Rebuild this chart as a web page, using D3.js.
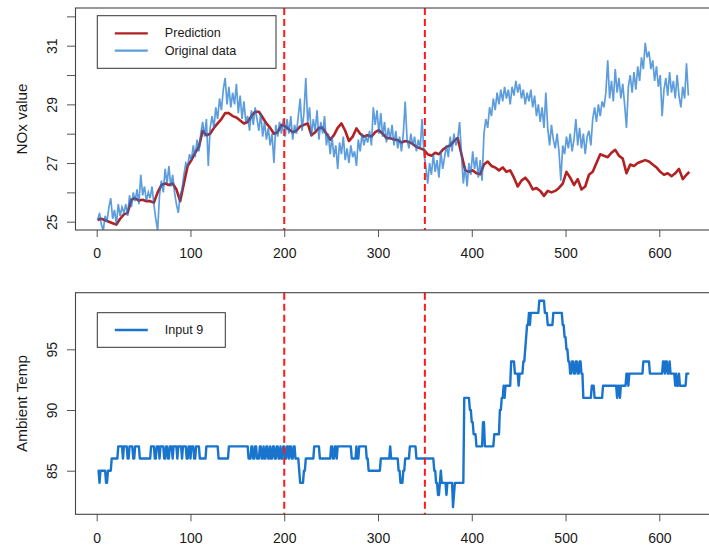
<!DOCTYPE html>
<html>
<head>
<meta charset="utf-8">
<script src="https://cdn.jsdelivr.net/npm/d3@7"></script>
<style>
  html, body { margin: 0; padding: 0; background: #ffffff; }
  svg { display: block; }
  text { font-family: "Liberation Sans", Arial, Helvetica, sans-serif; fill: #1a1a1a; }
</style>
</head>
<body>
<svg id="chart" width="709" height="556"></svg>
<script>
// ---------------- data ----------------
// Observed NOx, sampled every other time step starting at step 1
const originalStart = 1;
const originalStep = 2;
const originalData = [
  25.05, 25.3, 24.9, 24.7, 25.2, 25.0, 25.5, 25.8, 25.1, 25.4, 24.9, 25.6, 25.2, 25.5, 25.3,
  25.6, 25.2, 25.9, 25.5, 26.0, 25.7, 26.1, 25.6, 26.6, 25.9, 26.2, 25.7, 26.0, 25.8, 26.2, 25.6, 25.1, 24.7,
  25.9, 26.4, 26.0, 26.8, 26.3, 26.9, 26.2, 26.6,
  26.0, 25.6, 25.3, 25.9, 26.1, 26.6, 27.0,
  26.9, 27.3, 27.1, 27.6, 27.2, 27.8, 27.4, 28.0, 28.4, 27.9, 28.5, 26.9, 28.2,
  28.6, 28.2, 28.9, 28.5, 29.2, 28.8, 29.5, 29.9, 29.0, 29.6, 28.9, 29.4, 29.0, 29.7, 28.7, 29.3, 28.5, 29.1, 28.4,
  28.6, 28.1, 28.8, 28.3, 28.9, 28.5, 28.1, 28.7, 27.9, 28.4, 27.8, 28.2, 27.6, 28.0, 27.0, 28.3, 27.9, 28.4, 28.0, 28.5,
  27.9, 28.5, 28.0, 28.6, 27.8, 28.3, 28.0, 28.6, 29.2, 28.1, 28.7, 29.9, 28.4, 28.9, 27.9,
  28.5, 28.1, 28.8, 27.8, 28.4, 28.0, 28.6, 27.6, 28.0, 27.3, 27.9, 27.2, 27.6, 26.8, 27.7,
  27.3, 27.9, 27.1, 27.5, 27.0, 27.6, 27.2, 27.4, 26.9, 27.8, 27.4, 28.0, 27.6, 27.9, 27.7, 28.1, 27.6, 28.9, 28.3, 28.8,
  28.0, 28.7, 27.9, 28.4, 27.7, 28.2, 27.8, 28.3, 27.6, 28.1, 27.5, 27.9, 27.4, 28.0, 29.1, 27.8, 27.5, 28.0, 27.6, 27.9,
  27.4, 27.8, 27.5, 28.5, 27.3,
  26.9, 26.3, 27.0, 26.6, 27.3, 26.7, 27.1, 26.5, 27.4, 26.8, 27.2, 27.6, 27.2, 27.9, 27.4, 28.0, 27.6, 27.8, 28.4, 27.3,
  26.3, 26.9, 26.2, 27.0, 26.6, 27.4, 26.8, 27.2, 26.5, 27.1, 26.4, 28.0, 28.5, 28.2, 28.9, 28.6, 29.2, 28.8, 29.4, 29.0,
  29.5, 29.1, 29.6, 29.2, 29.5, 29.0, 29.6, 29.3, 29.8, 29.4, 29.7, 29.2, 29.5, 29.0, 29.4, 29.1, 29.5, 28.9, 29.3, 28.6,
  29.0, 28.4, 28.9, 28.2, 29.4,
  28.2, 27.6, 28.3, 27.8, 27.5, 28.0, 27.4, 26.4, 27.6, 27.3, 27.9, 27.5, 28.0, 27.4, 27.8, 28.5, 27.6, 28.2, 27.5, 28.0,
  27.3, 27.9, 28.1, 27.6, 28.5,
  28.9, 28.4, 29.0, 28.6, 29.1, 28.9, 29.4, 30.5, 29.2, 29.8, 29.1, 30.2, 29.4, 29.9, 29.2, 29.7, 29.0, 28.2, 29.6, 30.0,
  29.4, 30.1, 29.5, 30.3, 29.8,
  30.6, 30.2, 31.1, 30.6, 30.8, 30.2, 30.5, 29.8, 30.3, 29.6, 30.0, 28.6, 29.5, 29.9, 29.3, 30.1, 29.4, 29.8, 29.2, 30.0,
  29.3, 28.9, 29.6, 29.2, 30.4, 29.3
];

// Model prediction (time step, NOx)
const predictionIndex = [
  1, 5, 9, 13, 17, 21, 25, 29, 33, 37, 41, 45, 49, 53, 57, 61, 65, 69, 73, 77, 81, 85, 89, 93, 97,
  101, 105, 109, 113, 117, 121, 125, 129, 133, 137, 141, 145, 149, 153, 157, 161, 165, 169, 173, 177,
  181, 185, 189, 193, 197, 201, 205, 209, 213, 217, 221, 225, 229, 233, 237, 241, 245, 249, 253, 257,
  261, 265, 269, 273, 277, 281, 285, 289, 293, 297, 301, 305, 309, 313, 317, 321, 325, 329, 333, 337,
  341, 345, 349, 353, 357, 361, 365, 369, 373, 377, 381, 385, 389, 393, 397, 401, 405, 409, 413, 417,
  421, 425, 429, 433, 437, 441, 445, 449, 453, 457, 461, 465, 469, 473, 477, 481, 485, 489, 493, 497,
  501, 505, 509, 513, 517, 521, 525, 529, 533, 537, 541, 545, 549, 553, 557, 561, 565, 569, 573, 577,
  581, 585, 589, 593, 597, 601, 605, 609, 613, 617, 621, 625, 629, 632
];
const predictionValue = [
  25.06, 25.1, 25.05, 25.0, 24.95, 24.9, 25.1, 25.25, 25.3, 25.75, 25.8, 25.72, 25.75, 25.7, 25.7, 25.65,
  26.0, 26.25, 26.3, 26.25, 26.3, 26.1, 25.7, 26.3, 26.9,
  27.1, 27.35, 27.55, 28.1, 27.95, 28.0, 28.2, 28.35, 28.5, 28.7, 28.7, 28.6, 28.55, 28.45, 28.35, 28.4,
  28.6, 28.75, 28.75, 28.55,
  28.35, 28.2, 28.0, 28.05, 28.3, 28.25, 28.15, 28.05, 28.1, 28.25, 28.3, 28.35, 27.95, 28.05, 28.2,
  28.2, 28.0, 27.8, 27.95, 28.2,
  28.35, 28.1, 27.75, 27.9, 28.18, 28.0, 27.9, 27.95, 27.9, 28.05, 28.12, 28.0, 27.85, 27.85, 27.8,
  27.78, 27.7, 27.75, 27.72, 27.65,
  27.55, 27.5, 27.45, 27.3, 27.25, 27.35, 27.3, 27.45, 27.55, 27.6, 27.75, 27.85, 27.3, 26.75, 26.7,
  26.75, 26.65, 26.62, 26.95, 27.05,
  26.9, 26.85, 26.75, 26.85, 26.7, 26.75, 26.5, 26.2, 26.4, 26.5, 26.35, 26.1, 26.15, 26.05, 25.88,
  26.05, 26.0, 26.05, 26.15, 26.3,
  26.7, 26.5, 26.25, 26.45, 26.1, 26.2, 26.6, 26.7, 27.0, 27.3, 27.25, 27.2, 27.35, 27.45, 27.25,
  27.15, 26.65, 26.95, 26.9, 27.0,
  27.05, 27.1, 27.05, 26.95, 26.85, 26.7, 26.6, 26.65, 26.55, 26.65, 26.8, 26.45, 26.6, 26.7
];

// Input 9 (ambient temperature): value held from each start step until the next one
const input9Start = [
  1, 3, 4, 10, 12, 16, 23, 28, 29, 33, 35, 39, 41, 46, 58, 62, 64, 67, 68, 72, 74, 76, 78, 81, 82,
  86, 87, 91, 92, 96, 98, 100, 101, 104, 106, 110, 117, 130, 141, 162, 165, 167, 169, 171, 174, 176,
  178, 179, 181, 183, 185, 186, 188, 190, 192, 194, 196, 197, 199, 201, 203, 205, 206, 208, 210, 212,
  216, 217, 221, 223, 232, 238, 250, 252, 254, 256, 257, 272, 277, 278, 280, 288, 290, 303, 313, 314,
  322, 324, 327, 329, 334, 341, 360, 362, 364, 366, 367, 368, 373, 374, 380, 381, 382, 392, 398, 400,
  402, 405, 412, 414, 424, 430, 432, 434, 435, 436, 442, 446, 450, 451, 455, 457, 458, 459, 461, 462,
  463, 472, 478, 481, 487, 497, 499, 501, 503, 505, 507, 509, 511, 513, 515, 517, 519, 528, 531, 540,
  555, 556, 558, 559, 565, 567, 568, 583, 590, 604, 606, 607, 609, 611, 612, 617, 618, 619, 621, 622,
  629, 632
];
const input9Value = [
  85, 84, 85, 84, 85, 86, 87, 86, 87, 86, 87, 86, 87, 86, 87, 86, 87, 86, 87, 86, 87, 86, 87, 86, 87,
  86, 87, 86, 87, 86, 87, 86, 87, 86, 87, 86, 87, 86, 87, 86, 87, 86, 87, 86, 87, 86,
  87, 86, 87, 86, 87, 86, 87, 86, 87, 86, 87, 86, 87, 86, 87, 86, 87, 86, 87, 86,
  85, 84, 85, 86, 87, 86, 87, 86, 87, 86, 87, 86, 87, 86, 87, 86, 85, 86, 87, 86,
  85, 84, 85, 86, 87, 86, 85, 84, 83, 84, 85, 84, 83, 84, 82, 83, 84, 91, 90, 89,
  88, 87, 89, 87, 88, 90, 91, 92, 91, 92, 94, 93, 92, 93, 94, 95, 96, 97, 98, 97,
  98, 99, 98, 97, 98, 97, 96, 95, 94, 93, 94, 93, 94, 93, 94, 93, 91, 92, 91, 92,
  91, 92, 91, 92, 93, 92, 93, 94, 93, 94, 93, 94, 93, 94, 93, 92, 93, 92, 93, 92,
  93, 93
];

// Training / validation / test boundaries
const splitPoints = [200, 350];

// Axis ticks
const xTicks = [0, 100, 200, 300, 400, 500, 600];
const noxTicks = [25, 26, 27, 28, 29, 30, 31, 32];
const noxLabels = [25, 27, 29, 31];
const tempTicks = [85, 90, 95];

// ---------------- layout ----------------
const svg = d3.select("#chart");
svg.append("rect").attr("width", 709).attr("height", 556).attr("fill", "#ffffff");

const boxLeft = 75, boxRight = 714;
const x = d3.scaleLinear().domain([0, 600]).range([96.7, 659.3]);

const panels = [
  { top: 8, bottom: 230, y: d3.scaleLinear().domain([25, 31]).range([221.7, 45.7]),
    ticks: noxTicks, labels: noxLabels, title: "NOx value" },
  { top: 292.7, bottom: 514.3, y: d3.scaleLinear().domain([85, 95]).range([470.7, 349.3]),
    ticks: tempTicks, labels: tempTicks, title: "Ambient Temp" }
];

const red = "#b22222";
const blue = "#1874cd";

panels.forEach((p, k) => {
  const g = svg.append("g");
  const clipId = "clip" + k;
  svg.append("clipPath").attr("id", clipId)
    .append("rect").attr("x", boxLeft).attr("y", p.top)
    .attr("width", boxRight - boxLeft).attr("height", p.bottom - p.top);

  // x axis
  const xa = g.append("g").attr("transform", `translate(0,${p.bottom})`)
    .call(d3.axisBottom(x).tickValues(xTicks).tickSize(7).tickPadding(5).tickFormat(d3.format("d")));
  xa.select(".domain").remove();
  xa.selectAll(".tick line").attr("stroke", "#555").attr("stroke-width", 1);
  xa.selectAll(".tick text").attr("font-size", 14).attr("dy", null).attr("y", 28.3)
    .style("font-family", '"Liberation Sans", Arial, sans-serif').attr("fill", "#1a1a1a");

  // y axis with labels parallel to the axis
  const ya = g.append("g").attr("transform", `translate(${boxLeft},0)`)
    .call(d3.axisLeft(p.y).tickValues(p.ticks).tickSize(8)
      .tickFormat(d => p.labels.includes(d) ? d3.format("d")(d) : ""));
  ya.select(".domain").remove();
  ya.selectAll(".tick line").attr("stroke", "#555").attr("stroke-width", 1);
  ya.selectAll(".tick text")
    .attr("x", 0).attr("y", -18.3).attr("dy", null)
    .attr("transform", "rotate(-90)")
    .attr("text-anchor", "middle")
    .attr("font-size", 14)
    .style("font-family", '"Liberation Sans", Arial, sans-serif').attr("fill", "#1a1a1a");

  // axis title
  g.append("text")
    .attr("transform", `translate(26.5,${(p.top + p.bottom) / 2}) rotate(-90)`)
    .attr("text-anchor", "middle")
    .attr("font-size", 15.2)
    .text(p.title);

  p.g = g;
  p.clip = `url(#${clipId})`;
});

// ---------- top panel: prediction and observed NOx ----------
const noxPanel = panels[0];
const predPts = predictionIndex.map((d, i) => [d, predictionValue[i]]);
const origPts = originalData.map((v, i) => [originalStart + i * originalStep, v]);

const noxLine = d3.line().x(d => x(d[0])).y(d => noxPanel.y(d[1]));

noxPanel.g.append("path").datum(predPts)
  .attr("clip-path", noxPanel.clip)
  .attr("d", noxLine)
  .attr("fill", "none").attr("stroke", red).attr("stroke-width", 2.6)
  .attr("stroke-linejoin", "round");

noxPanel.g.append("path").datum(origPts)
  .attr("clip-path", noxPanel.clip)
  .attr("d", noxLine)
  .attr("fill", "none").attr("stroke", blue).attr("stroke-opacity", 0.7)
  .attr("stroke-width", 1.7).attr("stroke-linejoin", "miter");

// ---------- bottom panel: input 9 ----------
// Each run holds its value up to the step before the next run starts;
// consecutive steps are joined directly, as a per-step series would be.
const tempPanel = panels[1];
const inputPts = [];
input9Start.forEach((s, i) => {
  inputPts.push([s, input9Value[i]]);
  const next = input9Start[i + 1];
  if (next !== undefined && next - 1 > s) inputPts.push([next - 1, input9Value[i]]);
});
tempPanel.g.append("path").datum(inputPts)
  .attr("clip-path", tempPanel.clip)
  .attr("d", d3.line().x(d => x(d[0])).y(d => tempPanel.y(d[1])))
  .attr("fill", "none").attr("stroke", blue).attr("stroke-width", 2.4)
  .attr("stroke-linejoin", "round");

// ---------- split markers and frames ----------
panels.forEach(p => {
  p.g.selectAll("line.split").data(splitPoints).join("line")
    .attr("class", "split")
    .attr("x1", d => x(d)).attr("x2", d => x(d))
    .attr("y1", p.top).attr("y2", p.bottom)
    .attr("stroke", "#ff1a1a").attr("stroke-width", 2)
    .attr("stroke-dasharray", "7,4");

  p.g.append("rect")
    .attr("x", boxLeft + 0.5).attr("y", p.top)
    .attr("width", boxRight - boxLeft).attr("height", p.bottom - p.top)
    .attr("fill", "none").attr("stroke", "#444").attr("stroke-width", 1.1);
});

// ---------- legends ----------
function legend(g, x0, y0, w, h, items) {
  g.append("rect").attr("x", x0).attr("y", y0).attr("width", w).attr("height", h)
    .attr("fill", "#ffffff").attr("stroke", "#333").attr("stroke-width", 1);
  items.forEach(it => {
    g.append("line").attr("x1", x0 + 17.5).attr("x2", x0 + 50.5)
      .attr("y1", it.y).attr("y2", it.y)
      .attr("stroke", it.color).attr("stroke-opacity", it.opacity || 1)
      .attr("stroke-width", it.width);
    g.append("text").attr("x", x0 + 67.5).attr("y", it.y)
      .attr("dominant-baseline", "central")
      .attr("font-size", 12.6).text(it.label);
  });
}
legend(noxPanel.g, 97.3, 15.7, 178.7, 52.6, [
  { y: 33.3, color: red, width: 2.2, label: "Prediction" },
  { y: 50.7, color: blue, width: 2.2, opacity: 0.7, label: "Original data" }
]);
legend(tempPanel.g, 97.3, 312.7, 128, 34.6, [
  { y: 330, color: blue, width: 2.4, label: "Input 9" }
]);
</script>
</body>
</html>
